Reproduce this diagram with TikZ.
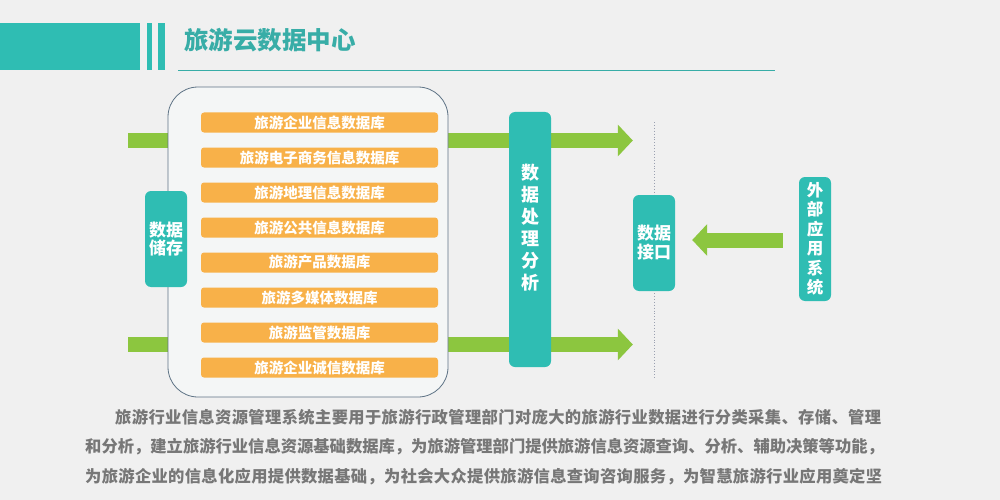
\documentclass[tikz,border=0pt]{standalone}
\usepackage{fontspec}
\setmainfont{Noto Sans CJK SC}
\usetikzlibrary{arrows.meta,calc}
\pgfdeclarelayer{bglayer}
\pgfdeclarelayer{backlayer}
\pgfsetlayers{bglayer,backlayer,main}
\definecolor{bgc}{HTML}{F0F0F0}
\definecolor{tealc}{HTML}{2FBDB3}
\definecolor{titlec}{HTML}{38ADA7}
\definecolor{greenc}{HTML}{8CC63F}
\definecolor{orangec}{HTML}{F8B149}
\definecolor{framec}{HTML}{5E7385}
\definecolor{framefill}{HTML}{F4F6F6}
\definecolor{textc}{HTML}{777777}
\definecolor{dotc}{HTML}{9AA0B0}
\tikzset{
  tealbox/.style={fill=tealc, rounded corners=6pt, inner sep=0pt, text=white, font=\bfseries\fontsize{17}{19}\selectfont, align=center},
  dbbar/.style={fill=orangec, rounded corners=3pt, minimum width=237pt, minimum height=20pt, inner sep=0pt, text=white, font=\bfseries\fontsize{14.5}{16}\selectfont},
  garrow/.style={draw=greenc, line width=15pt, -{Triangle[width=31pt,length=15pt]}},
  bodytext/.style={anchor=west, inner sep=0pt, text=textc, font=\bfseries\fontsize{16.3}{18}\selectfont},
}
\begin{document}
\begin{tikzpicture}[x=1pt,y=-1pt]
\useasboundingbox (0,0) rectangle (1000,500);
\begin{pgfonlayer}{bglayer}
\fill[bgc] (0,0) rectangle (1000,500);
\end{pgfonlayer}
% header
\fill[tealc] (0,23) rectangle (140,70);
\fill[tealc] (147,23) rectangle (152,70);
\fill[tealc] (158,23) rectangle (165,70);
\draw[titlec, line width=1.5pt] (178,70.5) -- (775,70.5);
\node[anchor=west, inner sep=0pt, text=titlec, font=\bfseries\fontsize{24.5}{26}\selectfont] (title) at (184,40) {旅游云数据中心};
% big storage frame
\node[draw=framec, fill=framefill, line width=0.8pt, rounded corners=30pt, minimum width=280pt, minimum height=310pt, inner sep=0pt] (frame) at (308,242) {};
\foreach \t [count=\i] in {旅游企业信息数据库,旅游电子商务信息数据库,旅游地理信息数据库,旅游公共信息数据库,旅游产品数据库,旅游多媒体数据库,旅游监管数据库,旅游企业诚信数据库}{
  \node[dbbar] (db\i) at (319.5,{122.5+35*(\i-1)}) {\t};
}
\node[tealbox, minimum width=42pt, minimum height=96pt] (cc) at (166,239) {数据\\[-1pt]储存};
% processing bar
\node[tealbox, minimum width=42pt, minimum height=255pt] (proc) at (530,239.5) {};
\node[inner sep=0pt, text=white, font=\bfseries\fontsize{18}{22}\selectfont, align=center] (proct) at (530,228) {数\\据\\处\\理\\分\\析};
% interface
\node[tealbox, minimum width=42pt, minimum height=96pt] (jk) at (654,243) {数据\\接口};
% external
\node[tealbox, minimum width=32pt, minimum height=124pt, font=\bfseries\fontsize{16.5}{19.5}\selectfont] (wb) at (815,239) {外\\部\\应\\用\\系\\统};
% connectors (behind the boxes)
\coordinate (inA) at (128,140.5);
\coordinate (inB) at (128,344.5);
\coordinate (dTop) at (654,122);
\coordinate (dBot) at (654,378);
\begin{pgfonlayer}{backlayer}
\draw[garrow] (inA) -- (jk.west |- inA);
\draw[garrow] (inB) -- (jk.west |- inB);
\draw[dotc, dotted, line width=0.9pt] (dTop) -- (dBot);
\end{pgfonlayer}
\draw[garrow, shorten <=16pt, shorten >=17pt] (wb.west |- 0,240) -- (jk.east |- 0,240);
% body text
\node[bodytext, font=\bfseries\fontsize{16.3}{18}\selectfont\addfontfeature{LetterSpace=2.2}] (l1) at (115,417) {旅游行业信息资源管理系统主要用于旅游行政管理部门对庞大的旅游行业数据进行分类采集、存储、管理};
\node[bodytext] (l2) at (85,447) {和分析，建立旅游行业信息资源基础数据库，为旅游管理部门提供旅游信息资源查询、分析、辅助决策等功能，};
\node[bodytext, font=\bfseries\fontsize{16.3}{18}\selectfont\addfontfeature{LetterSpace=1.9}] (l3) at (85,477) {为旅游企业的信息化应用提供数据基础，为社会大众提供旅游信息查询咨询服务，为智慧旅游行业应用奠定坚};
\end{tikzpicture}
\end{document}
